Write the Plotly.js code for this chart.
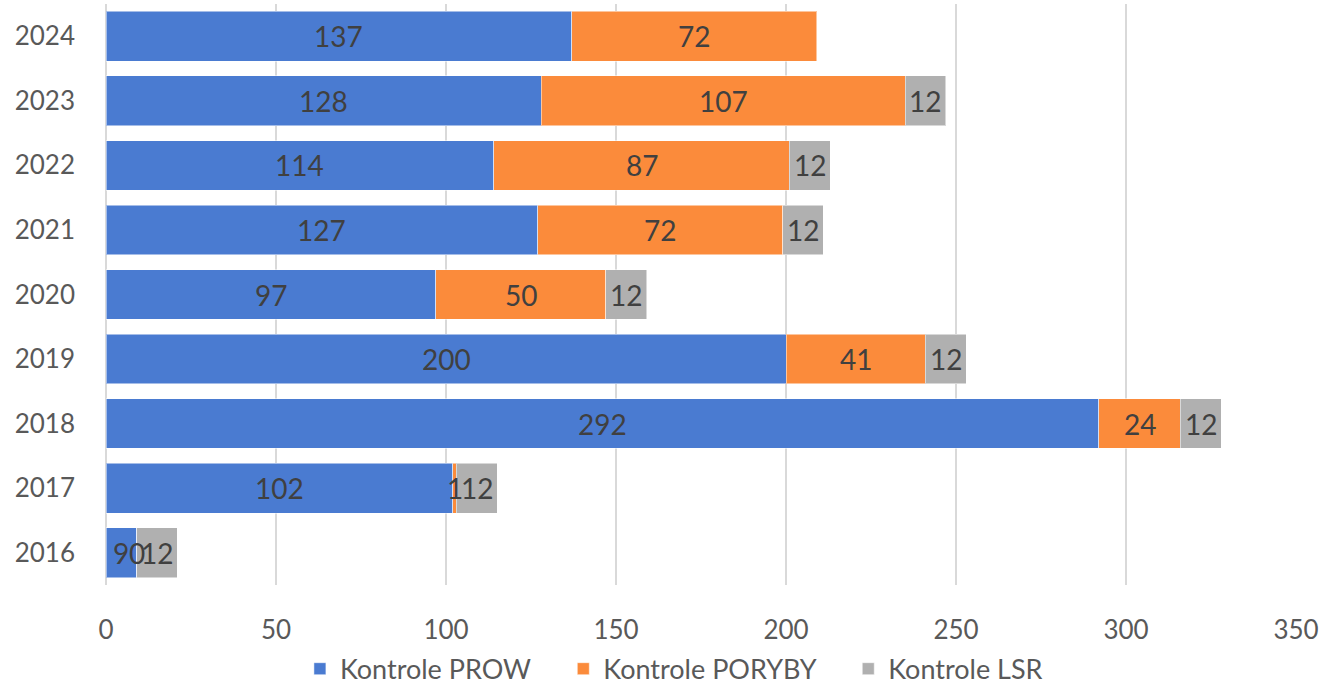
<!DOCTYPE html>
<html>
<head>
<meta charset="utf-8">
<script src="https://cdn.plot.ly/plotly-3.0.1.min.js"></script>
<style>html,body{margin:0;padding:0;background:#fff;}#chart{width:1324px;height:687px;}</style>
</head>
<body>
<div id="chart"></div>
<script>
const years = ["2016","2017","2018","2019","2020","2021","2022","2023","2024"];
const prow = [9, 102, 292, 200, 97, 127, 114, 128, 137];
const poryby = [0, 1, 24, 41, 50, 72, 87, 107, 72];
const lsr = [12, 12, 12, 12, 12, 12, 12, 12, null];
const seriesNames = ["Kontrole PROW", "Kontrole PORYBY", "Kontrole LSR"];
const xTicks = [0, 50, 100, 150, 200, 250, 300, 350];

const colors = ["#4a7bd1", "#fb8b3b", "#b0b0b0"];
const FONT = "Lato, 'Open Sans', 'Liberation Sans', sans-serif";
const all = [prow, poryby, lsr];
const PAD = "\u00a0\u00a0\u00a0\u00a0";

const traces = all.map((vals, i) => ({
  type: "bar",
  orientation: "h",
  name: seriesNames[i] + (i < all.length - 1 ? PAD : ""),
  y: years,
  x: vals,
  marker: {color: colors[i], line: {color: "rgba(255,255,255,0.5)", width: 1}},
  hoverinfo: "x+name"
}));

const annotations = [];
years.forEach((yr, j) => {
  let start = 0;
  all.forEach((vals) => {
    const v = vals[j];
    if (v === null || v === undefined) return;
    annotations.push({
      x: start + v / 2, y: yr, xref: "x", yref: "y",
      text: String(v), showarrow: false,
      font: {family: FONT, size: 28, color: "#404040"}
    });
    start += v;
  });
});

const layout = {
  width: 1324, height: 687,
  margin: {l: 106, r: 28, t: 4, b: 102},
  barmode: "stack",
  bargap: 0.23,
  paper_bgcolor: "#fff",
  plot_bgcolor: "#fff",
  font: {family: FONT, size: 24, color: "#595959"},
  xaxis: {
    range: [0, 350],
    tickvals: xTicks,
    ticktext: xTicks.map(String),
    showgrid: true,
    gridcolor: "#d9d9d9",
    gridwidth: 1.5,
    zeroline: true,
    zerolinecolor: "#d9d9d9",
    zerolinewidth: 1.5,
    showline: false,
    ticks: "",
    ticklen: 0,
    ticklabelstandoff: 27,
    tickfont: {family: FONT, size: 26, color: "#595959"},
    automargin: false
  },
  yaxis: {
    categoryorder: "array",
    categoryarray: years,
    showgrid: false,
    zeroline: false,
    showline: false,
    ticks: "",
    ticklabelstandoff: 30,
    tickfont: {family: FONT, size: 26, color: "#595959"},
    automargin: false
  },
  showlegend: true,
  legend: {
    orientation: "h",
    xref: "container", yref: "container",
    x: 0.509, xanchor: "center",
    y: 0.026, yanchor: "middle",
    font: {family: FONT, size: 27, color: "#595959"},
    traceorder: "normal",
    itemwidth: 30
  },
  annotations: annotations
};

Plotly.newPlot("chart", traces, layout, {displayModeBar: false, staticPlot: true});
</script>
</body>
</html>
